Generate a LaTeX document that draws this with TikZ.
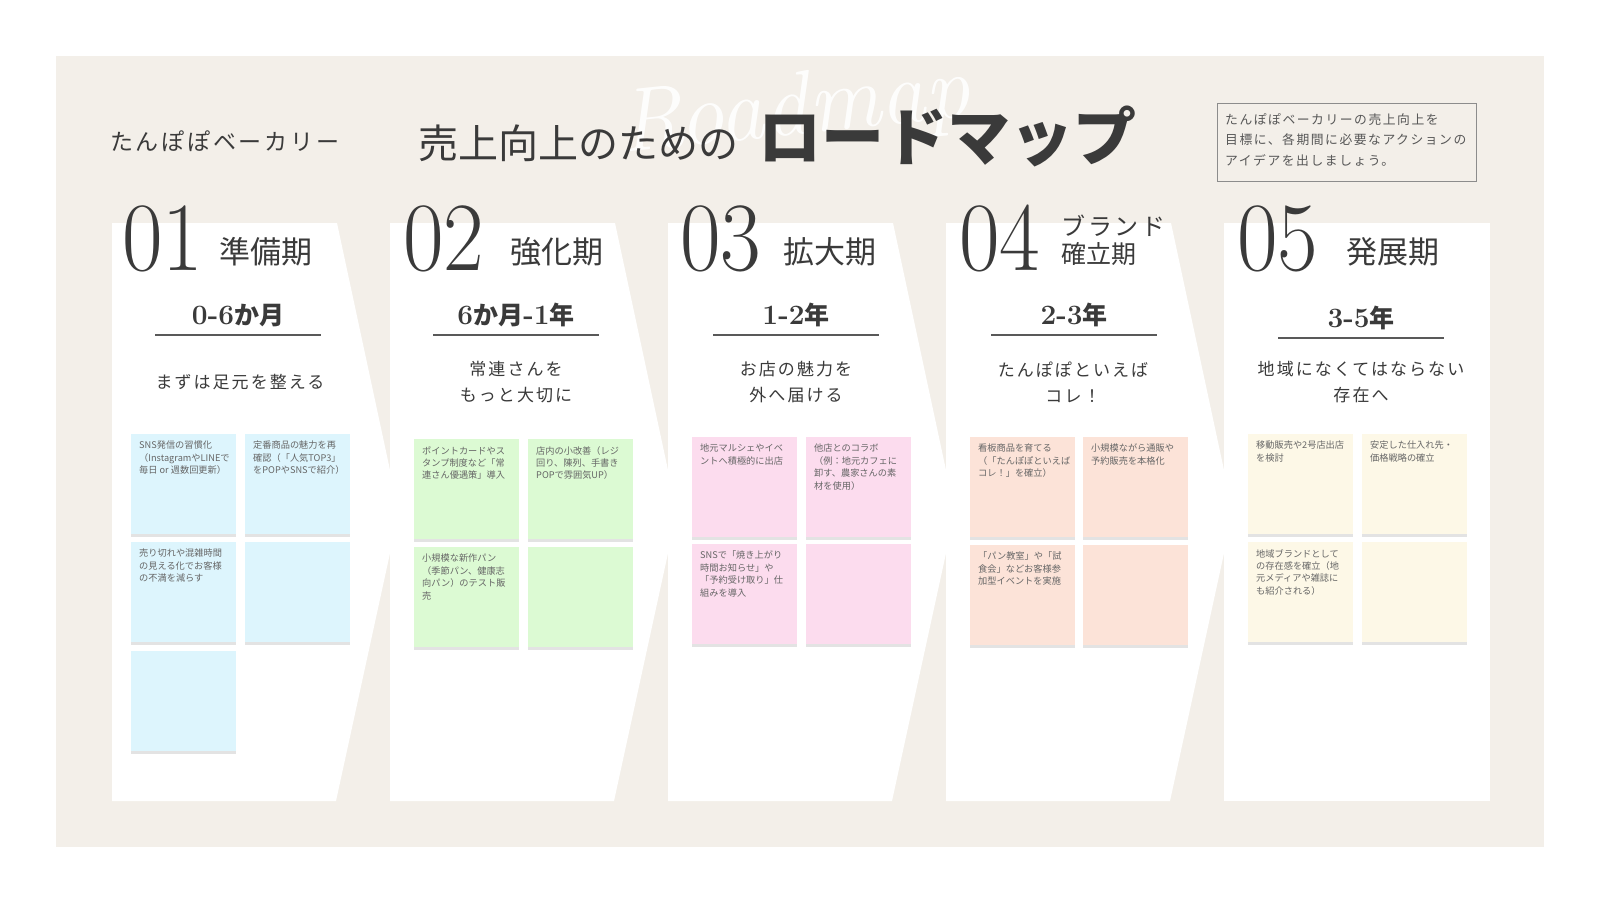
\documentclass[tikz,border=0pt]{standalone}
\usepackage{fontspec}
\newfontfamily\jp{Noto Sans CJK JP}
\newfontfamily\jpsp[LetterSpace=12]{Noto Sans CJK JP}
\usetikzlibrary{shadows,calc}
\definecolor{beige}{HTML}{F3EFE9}
\definecolor{ink}{HTML}{3A3A3A}
\definecolor{notetext}{HTML}{666666}
\definecolor{nblue}{HTML}{DDF5FD}
\definecolor{ngreen}{HTML}{DCFAD3}
\definecolor{npink}{HTML}{FCDCEE}
\definecolor{npeach}{HTML}{FCE3D8}
\definecolor{ncream}{HTML}{FDF8E7}
\tikzset{
  colshape/.style={fill=white, draw=none},
  note/.style={minimum width=105pt, minimum height=100pt, inner sep=0pt, anchor=north west,
    drop shadow={shadow xshift=0pt, shadow yshift=-2.5pt, opacity=0.18, fill=black!60}},
  ntxt/.style={anchor=north west, inner sep=0pt, align=left, text=notetext,
    font=\jp\fontsize{9.2}{12.4}\selectfont},
  bignum/.style={anchor=base west, inner sep=0pt, text=ink, font=\fontsize{98}{98}\selectfont},
  phase/.style={anchor=base west, inner sep=0pt, text=ink, font=\jp\fontsize{31}{31}\selectfont},
  period/.style={anchor=base, inner sep=0pt, text=ink},
  uline/.style={draw=black!65, line width=1.2pt},
  subt/.style={anchor=center, inner sep=0pt, align=center, text=ink, font=\jpsp\fontsize{17}{26}\selectfont},
}
\newcommand\pertext[2]{{\fontsize{28}{28}\selectfont\bfseries #1}{\jp\bfseries\fontsize{25}{25}\selectfont #2}}
\begin{document}
\begin{tikzpicture}[x=1pt,y=-1pt]
\useasboundingbox (0,0) rectangle (1600,900);
\fill[white] (0,0) rectangle (1600,900);
\fill[beige] (56,56) rectangle (1544,847);

% header
\node[anchor=west, inner sep=0pt, text=ink, font=\jpsp\fontsize{23}{23}\selectfont] (brand) at (110,141) {たんぽぽベーカリー};
\node[rotate=6, inner sep=0pt, text=white, opacity=0.9, font=\itshape\fontsize{90}{90}\selectfont] (wm) at (795,112) {Roadmap};
\node[anchor=base west, inner sep=0pt, text=ink, font=\jp\fontsize{40}{40}\selectfont] (t1) at (418,158) {売上向上のための};
\node[anchor=base west, inner sep=0pt, text=ink, font=\jp\bfseries\fontsize{63}{63}\selectfont] (t2) at (758,160) {ロードマップ};
\node[draw=black!45, line width=0.8pt, anchor=north west, minimum width=259pt, minimum height=78pt, inner sep=0pt] (box) at (1217,103) {};
\node[anchor=north west, inner sep=0pt, align=left, text=ink!85, font=\jpsp\fontsize{12.8}{20.5}\selectfont] (boxt) at ($(box.north west)+(8,10)$) {たんぽぽベーカリーの売上向上を\\目標に、各期間に必要なアクションの\\アイデアを出しましょう。};

% columns
\path[colshape] (112,223) -- (337,223) -- (399,512) -- (336,801) -- (112,801) -- cycle;
\path[colshape] (390,223) -- (615,223) -- (677,512) -- (614,801) -- (390,801) -- cycle;
\path[colshape] (668,223) -- (893,223) -- (955,512) -- (892,801) -- (668,801) -- cycle;
\path[colshape] (946,223) -- (1171,223) -- (1233,512) -- (1170,801) -- (946,801) -- cycle;
\path[colshape] (1224,223) rectangle (1490,801);

% numbers and phase names
\node[bignum] (n1) at (122,270) {\scalebox{0.9}[1]{01}};
\node[bignum] (n2) at (403,270) {\scalebox{0.9}[1]{02}};
\node[bignum] (n3) at (680,270) {\scalebox{0.9}[1]{03}};
\node[bignum] (n4) at (959,270) {\scalebox{0.9}[1]{04}};
\node[bignum] (n5) at (1237,270) {\scalebox{0.9}[1]{05}};
\node[phase] (l1) at (219,263) {準備期};
\node[phase] (l2) at (510,263) {強化期};
\node[phase] (l3) at (783,263) {拡大期};
\node[phase, font=\jpsp\fontsize{24}{24}\selectfont] (l4a) at (1061,235) {ブランド};
\node[phase, font=\jp\fontsize{25}{25}\selectfont] (l4b) at (1061,263) {確立期};
\node[phase] (l5) at (1346,263) {発展期};

% periods
\node[period] (p1) at (238,324) {\pertext{0-6}{か月}};
\node[period] (p2) at (516,324) {\pertext{6}{か月}\pertext{-1}{年}};
\node[period] (p3) at (796,324) {\pertext{1-2}{年}};
\node[period] (p4) at (1074,324) {\pertext{2-3}{年}};
\node[period] (p5) at (1361,327) {\pertext{3-5}{年}};
\draw[uline] (155,335) -- (321,335);
\draw[uline] (433,335) -- (599,335);
\draw[uline] (713,335) -- (879,335);
\draw[uline] (991,335) -- (1157,335);
\draw[uline] (1278,338) -- (1444,338);

% subtitles
\node[subt] (s1) at (240,382) {まずは足元を整える};
\node[subt] (s2) at (516,382) {常連さんを\\もっと大切に};
\node[subt] (s3) at (796,382) {お店の魅力を\\外へ届ける};
\node[subt] (s4) at (1073,382) {たんぽぽといえば\\コレ！};
\node[subt] (s5) at (1361,382) {地域になくてはならない\\存在へ};

% notes column 1
\node[note, fill=nblue] (c1a) at (131,434) {};
\node[note, fill=nblue] (c1b) at (245,434) {};
\node[note, fill=nblue] (c1c) at (131,542) {};
\node[note, fill=nblue] (c1d) at (245,542) {};
\node[note, fill=nblue] (c1e) at (131,651) {};
\node[ntxt] (c1at) at ($(c1a.north west)+(8,7)$) {SNS発信の習慣化\\（InstagramやLINEで\\毎日 or 週数回更新）};
\node[ntxt] (c1bt) at ($(c1b.north west)+(8,7)$) {定番商品の魅力を再\\確認（「人気TOP3」\\をPOPやSNSで紹介）};
\node[ntxt] (c1ct) at ($(c1c.north west)+(8,7)$) {売り切れや混雑時間\\の見える化でお客様\\の不満を減らす};

% notes column 2
\node[note, fill=ngreen] (c2a) at (414,439) {};
\node[note, fill=ngreen] (c2b) at (528,439) {};
\node[note, fill=ngreen] (c2c) at (414,547) {};
\node[note, fill=ngreen] (c2d) at (528,547) {};
\node[ntxt] (c2at) at ($(c2a.north west)+(8,7)$) {ポイントカードやス\\タンプ制度など「常\\連さん優遇策」導入};
\node[ntxt] (c2bt) at ($(c2b.north west)+(8,7)$) {店内の小改善（レジ\\回り、陳列、手書き\\POPで雰囲気UP）};
\node[ntxt] (c2ct) at ($(c2c.north west)+(8,7)$) {小規模な新作パン\\（季節パン、健康志\\向パン）のテスト販\\売};

% notes column 3
\node[note, fill=npink] (c3a) at (692,437) {};
\node[note, fill=npink] (c3b) at (806,437) {};
\node[note, fill=npink] (c3c) at (692,544) {};
\node[note, fill=npink] (c3d) at (806,544) {};
\node[ntxt] (c3at) at ($(c3a.north west)+(8,7)$) {地元マルシェやイベ\\ントへ積極的に出店};
\node[ntxt] (c3bt) at ($(c3b.north west)+(8,7)$) {他店とのコラボ\\（例：地元カフェに\\卸す、農家さんの素\\材を使用）};
\node[ntxt] (c3ct) at ($(c3c.north west)+(8,7)$) {SNSで「焼き上がり\\時間お知らせ」や\\「予約受け取り」仕\\組みを導入};

% notes column 4
\node[note, fill=npeach] (c4a) at (970,437) {};
\node[note, fill=npeach] (c4b) at (1083,437) {};
\node[note, fill=npeach] (c4c) at (970,545) {};
\node[note, fill=npeach] (c4d) at (1083,545) {};
\node[ntxt] (c4at) at ($(c4a.north west)+(8,7)$) {看板商品を育てる\\（「たんぽぽといえば\\コレ！」を確立）};
\node[ntxt] (c4bt) at ($(c4b.north west)+(8,7)$) {小規模ながら通販や\\予約販売を本格化};
\node[ntxt] (c4ct) at ($(c4c.north west)+(8,7)$) {「パン教室」や「試\\食会」などお客様参\\加型イベントを実施};

% notes column 5
\node[note, fill=ncream] (c5a) at (1248,434) {};
\node[note, fill=ncream] (c5b) at (1362,434) {};
\node[note, fill=ncream] (c5c) at (1248,542) {};
\node[note, fill=ncream] (c5d) at (1362,542) {};
\node[ntxt] (c5at) at ($(c5a.north west)+(8,7)$) {移動販売や2号店出店\\を検討};
\node[ntxt] (c5bt) at ($(c5b.north west)+(8,7)$) {安定した仕入れ先・\\価格戦略の確立};
\node[ntxt] (c5ct) at ($(c5c.north west)+(8,7)$) {地域ブランドとして\\の存在感を確立（地\\元メディアや雑誌に\\も紹介される）};
\end{tikzpicture}
\end{document}
